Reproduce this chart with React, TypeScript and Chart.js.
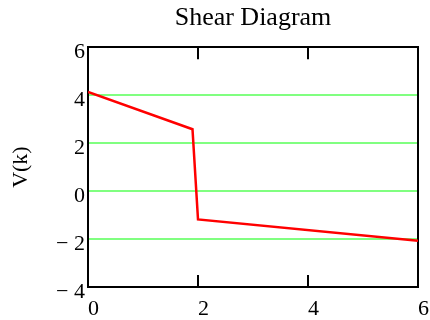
import { useEffect, useRef } from "react";
import { Chart, registerables } from "chart.js";

Chart.register(...registerables);

const positionsFt = [0, 1.9, 2.0, 6];
const shearKips = [4.13, 2.58, -1.18, -2.07];
const xTickValues = [0, 2, 4, 6];
const xTickLabels = ["0", "2", "4", "6"];
const yTickValues = [-4, -2, 0, 2, 4, 6];
const yTickLabels = ["\u2212 4", "\u2212 2", "0", "2", "4", "6"];
const chartTitle = "Shear Diagram";
const yAxisTitle = "V(k)";

const FONT = "'Liberation Serif', 'Times New Roman', serif";

// Draws inward tick marks on the top and bottom edges at the x-axis tick values.
const innerTicks = {
  id: "innerTicks",
  beforeDatasetsDraw(chart: any) {
    const xs = chart.scales.x;
    const area = chart.chartArea;
    const ctx = chart.ctx;
    const len = 12;
    ctx.save();
    ctx.strokeStyle = "#000000";
    ctx.lineWidth = 2;
    ctx.beginPath();
    xTickValues.forEach((v) => {
      const px = Math.round(xs.getPixelForValue(v));
      ctx.moveTo(px, area.top);
      ctx.lineTo(px, area.top + len);
      ctx.moveTo(px, area.bottom);
      ctx.lineTo(px, area.bottom - len);
    });
    ctx.stroke();
    ctx.restore();
  },
};

export default function App() {
  const canvasRef = useRef<HTMLCanvasElement | null>(null);

  useEffect(() => {
    if (!canvasRef.current) return;
    const black = "#000000";
    const green = "rgb(128,255,128)";
    const tickFont = { family: FONT, size: 22, weight: "normal" as const };

    const chart = new Chart(canvasRef.current, {
      type: "line",
      data: {
        datasets: [
          {
            data: positionsFt.map((x, i) => ({ x, y: shearKips[i] })),
            borderColor: "#ff0000",
            borderWidth: 2.5,
            pointRadius: 0,
            tension: 0,
            fill: false,
            xAxisID: "x",
            yAxisID: "y",
          },
        ],
      },
      plugins: [innerTicks],
      options: {
        animation: false,
        responsive: true,
        maintainAspectRatio: false,
        layout: { padding: { left: 0, right: 12, top: 0, bottom: 0 } },
        plugins: {
          legend: { display: false },
          tooltip: { enabled: false },
          title: {
            display: true,
            text: chartTitle,
            color: black,
            fullSize: false,
            font: { family: FONT, size: 26, weight: "normal" },
            padding: { top: 3, bottom: 13 },
          },
        },
        scales: {
          x: {
            type: "linear",
            position: "bottom",
            min: 0,
            max: 6,
            afterBuildTicks: (axis: any) => {
              axis.ticks = xTickValues.map((v) => ({ value: v }));
            },
            afterFit: (axis: any) => {
              axis.height = 33;
              axis.paddingLeft = 0;
              axis.paddingRight = 0;
            },
            ticks: {
              color: black,
              font: tickFont,
              padding: 9,
              labelOffset: 5.5,
              maxRotation: 0,
              autoSkip: false,
              callback: (v: any) => xTickLabels[xTickValues.indexOf(Number(v))],
            },
            grid: { display: false, drawOnChartArea: false, drawTicks: false },
            border: { display: true, color: black, width: 2 },
          },
          x2: {
            type: "linear",
            position: "top",
            min: 0,
            max: 6,
            afterFit: (axis: any) => {
              axis.height = 0;
              axis.paddingLeft = 0;
              axis.paddingRight = 0;
            },
            ticks: { display: false },
            grid: { display: false, drawOnChartArea: false, drawTicks: false },
            border: { display: true, color: black, width: 2 },
          },
          y: {
            type: "linear",
            position: "left",
            min: -4,
            max: 6,
            afterBuildTicks: (axis: any) => {
              axis.ticks = yTickValues.map((v) => ({ value: v }));
            },
            afterFit: (axis: any) => {
              axis.width = 88;
            },
            ticks: {
              color: black,
              font: tickFont,
              padding: 3,
              labelOffset: 5,
              autoSkip: false,
              callback: (v: any) => yTickLabels[yTickValues.indexOf(Number(v))],
            },
            grid: {
              drawTicks: false,
              lineWidth: 2,
              color: (ctx: any) =>
                ctx.tick &&
                (ctx.tick.value === yTickValues[0] || ctx.tick.value === yTickValues[yTickValues.length - 1])
                  ? "rgba(0,0,0,0)"
                  : green,
            },
            border: { display: true, color: black, width: 2 },
            title: {
              display: true,
              text: yAxisTitle,
              color: black,
              font: { family: FONT, size: 22, weight: "normal" },
              padding: { top: 8, bottom: 0 },
            },
          },
          y2: {
            type: "linear",
            position: "right",
            min: 0,
            max: 1,
            afterFit: (axis: any) => {
              axis.width = 0;
            },
            ticks: { display: false },
            grid: { display: false, drawOnChartArea: false },
            border: { display: true, color: black, width: 2 },
          },
        },
      },
    } as any);

    return () => chart.destroy();
  }, []);

  return (
    <div style={{ position: "fixed", left: 0, top: 0, width: 430, height: 320, background: "#ffffff" }}>
      <canvas ref={canvasRef} />
    </div>
  );
}
